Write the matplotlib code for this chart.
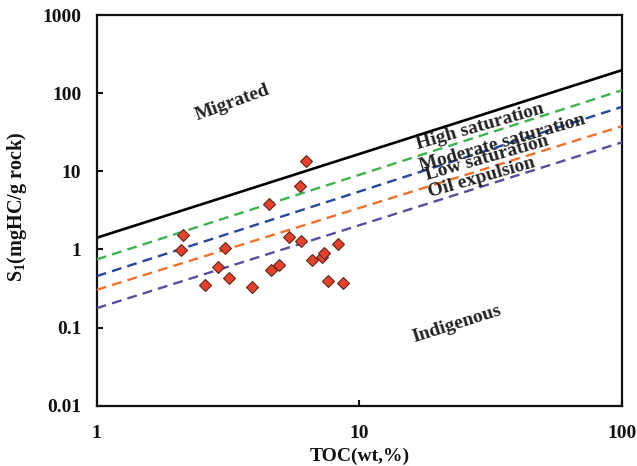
import matplotlib
matplotlib.use("Agg")
import matplotlib.pyplot as plt
from matplotlib.ticker import FixedLocator, FixedFormatter, NullLocator

plt.rcParams['font.family'] = ['Liberation Serif', 'DejaVu Serif']
plt.rcParams['mathtext.fontset'] = 'custom'
plt.rcParams['mathtext.rm'] = 'Liberation Serif:bold'
plt.rcParams['mathtext.bf'] = 'Liberation Serif:bold'

# Sample data
toc = [2.13, 2.10, 2.59, 2.89, 3.09, 3.18, 3.89, 4.53, 4.59, 4.96,
       5.40, 5.96, 6.25, 5.98, 6.60, 7.19, 7.35, 7.62, 8.29, 8.68]
s1 = [1.51, 0.97, 0.348, 0.593, 1.03, 0.434, 0.333, 3.85, 0.543, 0.629,
      1.45, 6.42, 13.4, 1.30, 0.738, 0.806, 0.907, 0.389, 1.16, 0.377]

# Boundary lines (TOC endpoints, S1 endpoints)
line_x = [1, 100]
migrated_line = [1.41, 197]
high_sat = [0.745, 109]
moderate_sat = [0.455, 66.8]
low_sat = [0.304, 37.8]
oil_expulsion = [0.177, 23.5]

x_ticks = [1, 10, 100]
x_tick_labels = ['1', '10', '100']
y_ticks = [0.01, 0.1, 1, 10, 100, 1000]
y_tick_labels = ['0.01', '0.1', '1', '10', '100', '1000']

fig = plt.figure(figsize=(6.37, 4.66), dpi=100)
ax = fig.add_axes([0.1518, 0.1294, 0.8247, 0.8384])

ax.set_xscale('log')
ax.set_yscale('log')
ax.set_xlim(1, 100)
ax.set_ylim(0.01, 1000)

ax.plot(line_x, migrated_line, color='black', lw=1.9, zorder=3)
dash = (0, (4.2, 2.6))
ax.plot(line_x, high_sat, color='#3db44b', lw=1.7, linestyle=dash, zorder=3)
ax.plot(line_x, moderate_sat, color='#27479c', lw=1.7, linestyle=dash, zorder=3)
ax.plot(line_x, low_sat, color='#f2712a', lw=1.7, linestyle=dash, zorder=3)
ax.plot(line_x, oil_expulsion, color='#5c4c9e', lw=1.7, linestyle=dash, zorder=3)

ax.plot(toc, s1, linestyle='none', marker='D', ms=6.3, mfc='#e8402a',
        mec='#5a2a20', mew=0.8, zorder=5)

tk = dict(fontsize=14, fontweight='bold', color='#222222')

for label, (cx, cy), rot in [
    ('Migrated', (232, 103), 20),
    ('Indigenous', (457, 324), 17.5),
    ('High saturation', (480, 127), 16),
    ('Moderate saturation', (502, 143), 16),
    ('Low saturation', (487, 158), 16),
    ('Oil expulsion', (482, 178), 16),
]:
    ax.text(cx / 637, (466 - cy) / 466, label, transform=fig.transFigure,
            rotation=rot, ha='center', va='center', zorder=6, **tk)

ax.xaxis.set_major_locator(FixedLocator(x_ticks))
ax.xaxis.set_major_formatter(FixedFormatter(x_tick_labels))
ax.xaxis.set_minor_locator(NullLocator())
ax.yaxis.set_major_locator(FixedLocator(y_ticks))
ax.yaxis.set_major_formatter(FixedFormatter(y_tick_labels))
ax.yaxis.set_minor_locator(NullLocator())

ax.tick_params(direction='in', length=4, width=1.5, labelsize=14, colors='#111111')
ax.tick_params(axis='x', pad=14)
ax.tick_params(axis='y', pad=11)
for lab in ax.get_xticklabels() + ax.get_yticklabels():
    lab.set_fontweight('bold')
for sp in ax.spines.values():
    sp.set_linewidth(1.6)
    sp.set_color('#111111')

ax.set_xlabel('TOC(wt,%)', fontsize=14, fontweight='bold', labelpad=4, color='#111111')
ax.set_ylabel(r'S$_\mathregular{1}$(mgHC/g rock)', fontsize=14.5, fontweight='bold',
              color='#111111')
ax.yaxis.set_label_coords(-0.128, 0.51)

fig.savefig('out.png', dpi=100)
